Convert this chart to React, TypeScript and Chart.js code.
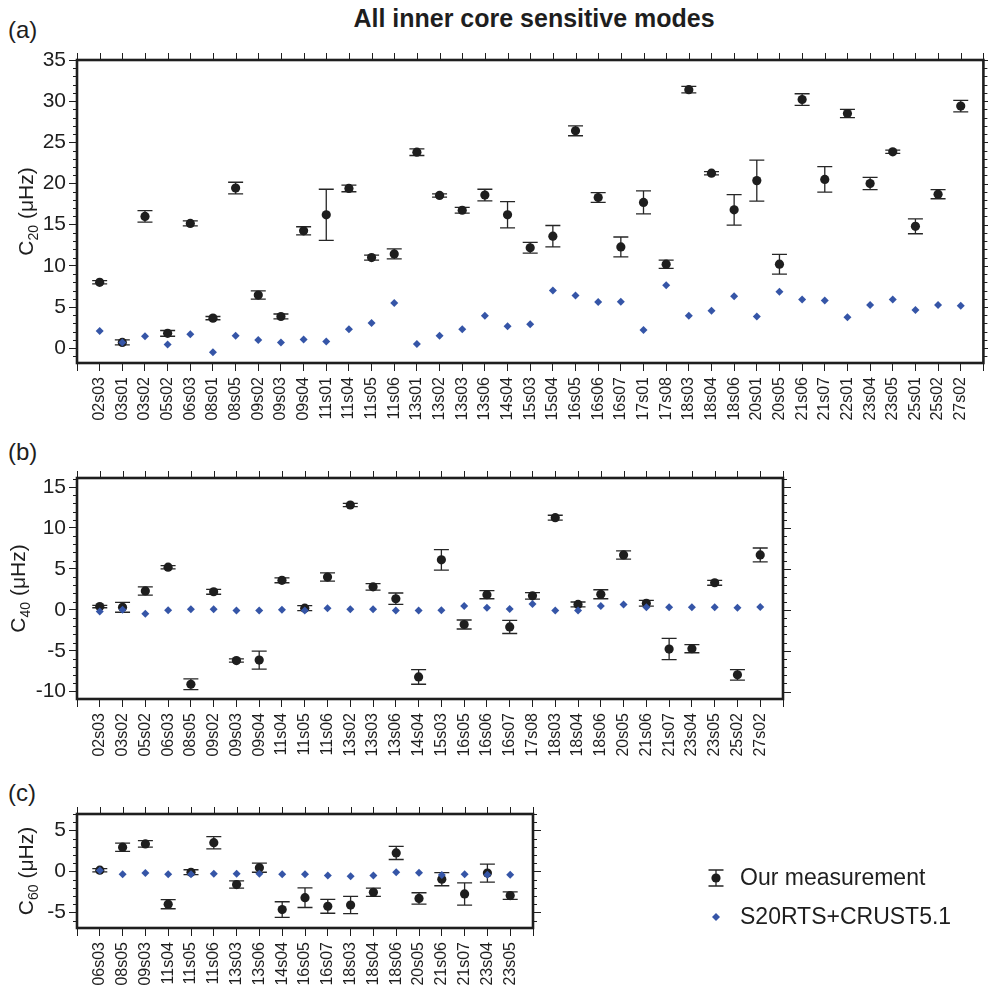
import React, { useEffect, useRef } from "react";
import { Chart, registerables } from "chart.js";

Chart.register(...registerables);

const FONT = "'Liberation Sans', Arial, Helvetica, sans-serif";
const INK = "#1e1e1e";
const BLUE = "#3555a7";

// ---------- Panel (a): C20 ----------
const modesA = ["02s03","03s01","03s02","05s02","06s03","08s01","08s05","09s02","09s03","09s04","11s01","11s04","11s05","11s06","13s01","13s02","13s03","13s06","14s04","15s03","15s04","16s05","16s06","16s07","17s01","17s08","18s03","18s04","18s06","20s01","20s05","21s06","21s07","22s01","23s04","23s05","25s01","25s02","27s02"];
const measA = [8.0, 0.7, 16.0, 1.8, 15.15, 3.65, 19.45, 6.45, 3.85, 14.25, 16.2, 19.4, 11.0, 11.45, 23.8, 18.55, 16.75, 18.6, 16.2, 12.2, 13.6, 26.4, 18.3, 12.3, 17.7, 10.2, 31.4, 21.25, 16.8, 20.35, 10.2, 30.2, 20.5, 28.5, 20.0, 23.85, 14.8, 18.7, 29.4];
const errA = [0.2, 0.3, 0.7, 0.35, 0.3, 0.2, 0.7, 0.5, 0.3, 0.5, 3.1, 0.4, 0.3, 0.6, 0.4, 0.2, 0.35, 0.7, 1.6, 0.65, 1.3, 0.6, 0.6, 1.2, 1.4, 0.5, 0.4, 0.2, 1.85, 2.5, 1.2, 0.7, 1.55, 0.5, 0.75, 0.2, 0.9, 0.55, 0.7];
const modelA = [2.1, 0.7, 1.45, 0.45, 1.7, -0.5, 1.5, 1.0, 0.7, 1.05, 0.8, 2.3, 3.05, 5.5, 0.5, 1.5, 2.3, 3.95, 2.65, 2.9, 7.0, 6.4, 5.6, 5.65, 2.2, 7.65, 3.95, 4.55, 6.3, 3.85, 6.85, 5.9, 5.8, 3.75, 5.25, 5.9, 4.65, 5.25, 5.15];
const yTicksA = [0, 5, 10, 15, 20, 25, 30, 35];

// ---------- Panel (b): C40 ----------
const modesB = ["02s03","03s02","05s02","06s03","08s05","09s02","09s03","09s04","11s04","11s05","11s06","13s02","13s03","13s06","14s04","15s03","16s05","16s06","16s07","17s08","18s03","18s04","18s06","20s05","21s06","21s07","23s04","23s05","25s02","27s02"];
const measB = [0.4, 0.3, 2.3, 5.2, -9.1, 2.2, -6.2, -6.15, 3.6, 0.2, 4.0, 12.8, 2.8, 1.35, -8.2, 6.1, -1.8, 1.85, -2.1, 1.7, 11.25, 0.65, 1.9, 6.7, 0.8, -4.8, -4.75, 3.3, -7.95, 6.7];
const errB = [0.15, 0.6, 0.5, 0.2, 0.65, 0.3, 0.2, 1.1, 0.3, 0.3, 0.5, 0.2, 0.4, 0.7, 0.9, 1.25, 0.55, 0.5, 0.8, 0.4, 0.3, 0.3, 0.55, 0.5, 0.35, 1.3, 0.5, 0.3, 0.65, 0.85];
const modelB = [-0.2, 0.0, -0.5, -0.05, 0.05, 0.05, -0.1, -0.08, 0.0, -0.1, 0.2, 0.08, 0.05, -0.1, -0.1, -0.05, 0.45, 0.25, 0.1, 0.7, -0.1, -0.1, 0.45, 0.65, 0.3, 0.3, 0.3, 0.3, 0.25, 0.35];
const yTicksB = [-10, -5, 0, 5, 10, 15];

// ---------- Panel (c): C60 ----------
const modesC = ["06s03","08s05","09s03","11s04","11s05","11s06","13s03","13s06","14s04","16s05","16s07","18s03","18s04","18s06","20s05","21s06","21s07","23s04","23s05"];
const measC = [0.15, 2.95, 3.35, -4.0, -0.1, 3.5, -1.6, 0.45, -4.65, -3.2, -4.25, -4.1, -2.55, 2.25, -3.3, -0.95, -2.75, -0.2, -2.95];
const errC = [0.2, 0.5, 0.4, 0.55, 0.3, 0.75, 0.45, 0.55, 0.95, 1.2, 0.85, 1.05, 0.5, 0.8, 0.7, 0.8, 1.35, 1.1, 0.45];
const modelC = [0.1, -0.35, -0.2, -0.35, -0.35, -0.3, -0.3, -0.3, -0.35, -0.35, -0.5, -0.6, -0.5, -0.1, -0.15, -0.45, -0.35, -0.4, -0.4];
const yTicksC = [-5, 0, 5];

const legendLabels = ["Our measurement", "S20RTS+CRUST5.1"];

type Spec = {
  labels: string[]; meas: number[]; err: number[]; model: number[]; yTicks: number[];
  yMin: number; yMax: number; sub: string;
  top: number; height: number; padTop: number; padRight: number; xH: number;
  titleX: number; legend?: boolean;
};

const specs: Spec[] = [
  { labels: modesA, meas: measA, err: errA, model: modelA, yTicks: yTicksA, yMin: -1.8, yMax: 35, sub: "20",
    top: 30, height: 410, padTop: 30, padRight: 1.5, xH: 77, titleX: 25 },
  { labels: modesB, meas: measB, err: errB, model: modelB, yTicks: yTicksB, yMin: -10.9, yMax: 16.1, sub: "40",
    top: 450, height: 320, padTop: 28, padRight: 205, xH: 71, titleX: 17 },
  { labels: modesC, meas: measC, err: errC, model: modelC, yTicks: yTicksC, yMin: -6.9, yMax: 7.0, sub: "60",
    top: 790, height: 198, padTop: 24, padRight: 455, xH: 60, titleX: 25, legend: true },
];

const DOT_R = 4.6;
const DIA_R = 4.0;

function drawErrorBar(ctx: CanvasRenderingContext2D, x: number, y1: number, y2: number, cap: number) {
  ctx.beginPath();
  ctx.moveTo(x, y1); ctx.lineTo(x, y2);
  ctx.moveTo(x - cap, y1); ctx.lineTo(x + cap, y1);
  ctx.moveTo(x - cap, y2); ctx.lineTo(x + cap, y2);
  ctx.stroke();
}

function makePlugin(spec: Spec) {
  return {
    id: "frameAndBars",
    beforeDatasetsDraw(chart: any) {
      const ctx: CanvasRenderingContext2D = chart.ctx;
      const xs = chart.scales.x, ys = chart.scales.y;
      ctx.save();
      ctx.strokeStyle = "#262626";
      ctx.lineWidth = 1.3;
      spec.meas.forEach((v, i) => {
        const x = xs.getPixelForValue(i);
        drawErrorBar(ctx, x, ys.getPixelForValue(v + spec.err[i]), ys.getPixelForValue(v - spec.err[i]), 7.5);
      });
      ctx.restore();
    },
    afterDraw(chart: any) {
      const ctx: CanvasRenderingContext2D = chart.ctx;
      const { left, right, top, bottom } = chart.chartArea;
      const xs = chart.scales.x, ys = chart.scales.y;
      ctx.save();
      ctx.strokeStyle = INK;
      ctx.lineWidth = 1;
      ctx.beginPath();
      // top ticks
      for (let i = -1; i <= spec.labels.length; i++) {
        const x = Math.round(xs.getPixelForValue(i)) + 0.5;
        ctx.moveTo(x, top); ctx.lineTo(x, top - 7);
      }
      // minor left ticks & right ticks
      for (let v = Math.ceil(spec.yMin); v <= Math.floor(spec.yMax); v++) {
        const y = Math.round(ys.getPixelForValue(v)) + 0.5;
        const major = v % 5 === 0;
        if (!major) { ctx.moveTo(left - 4, y); ctx.lineTo(left, y); }
        const len = major ? 8 : 4;
        ctx.moveTo(right, y); ctx.lineTo(right + len, y);
      }
      ctx.stroke();
      // frame
      ctx.lineWidth = 2.6;
      ctx.strokeRect(left, top, right - left, bottom - top);

      // y axis title with subscript
      ctx.fillStyle = INK;
      ctx.translate(spec.titleX, (top + bottom) / 2);
      ctx.rotate(-Math.PI / 2);
      ctx.textBaseline = "alphabetic";
      ctx.textAlign = "left";
      const big = `21px ${FONT}`, small = `14px ${FONT}`;
      ctx.font = big; const wC = ctx.measureText("C").width;
      const rest = " (\u03bcHz)"; const wR = ctx.measureText(rest).width;
      ctx.font = small; const wS = ctx.measureText(spec.sub).width;
      let x0 = -(wC + wS + wR) / 2;
      const base = 7.5;
      ctx.font = big; ctx.fillText("C", x0, base); x0 += wC;
      ctx.font = small; ctx.fillText(spec.sub, x0, base + 5); x0 += wS;
      ctx.font = big; ctx.fillText(rest, x0, base);
      ctx.restore();

      if (spec.legend) {
        ctx.save();
        const oy = -spec.top;
        const mx = 716;
        const y1 = 878 + oy, y2 = 917 + oy;
        ctx.strokeStyle = "#262626";
        ctx.lineWidth = 1.3;
        drawErrorBar(ctx, mx, y1 - 8, y1 + 8, 7.5);
        ctx.fillStyle = INK;
        ctx.beginPath(); ctx.arc(mx, y1, DOT_R, 0, Math.PI * 2); ctx.fill();
        ctx.fillStyle = BLUE;
        ctx.beginPath();
        ctx.moveTo(mx, y2 - DIA_R); ctx.lineTo(mx + DIA_R, y2); ctx.lineTo(mx, y2 + DIA_R); ctx.lineTo(mx - DIA_R, y2);
        ctx.closePath(); ctx.fill();
        ctx.fillStyle = INK;
        ctx.font = `23px ${FONT}`;
        ctx.textBaseline = "middle";
        ctx.textAlign = "left";
        ctx.fillText(legendLabels[0], 740, y1 + 1);
        ctx.fillText(legendLabels[1], 740, y2 + 1);
        ctx.restore();
      }
    },
  };
}

function Panel({ spec }: { spec: Spec }) {
  const ref = useRef<HTMLCanvasElement | null>(null);
  useEffect(() => {
    if (!ref.current) return;
    const n = spec.labels.length;
    const chart = new Chart(ref.current, {
      type: "scatter",
      data: {
        datasets: [
          {
            label: legendLabels[1],
            data: spec.model.map((y, i) => ({ x: i, y })),
            pointStyle: "rectRot",
            pointRadius: DIA_R,
            backgroundColor: BLUE,
            borderWidth: 0,
            order: 0,
          },
          {
            label: legendLabels[0],
            data: spec.meas.map((y, i) => ({ x: i, y })),
            pointStyle: "circle",
            pointRadius: DOT_R,
            backgroundColor: INK,
            borderWidth: 0,
            order: 1,
          },
        ],
      },
      options: {
        animation: false,
        responsive: false,
        events: [],
        layout: { padding: { top: spec.padTop, right: spec.padRight, bottom: 0, left: 0 } },
        plugins: { legend: { display: false }, tooltip: { enabled: false }, title: { display: false } },
        scales: {
          x: {
            type: "linear",
            min: -1,
            max: n,
            afterBuildTicks: (s: any) => {
              const t = [];
              for (let i = -1; i <= n; i++) t.push({ value: i });
              s.ticks = t;
            },
            afterFit: (s: any) => { s.height = spec.xH; s.paddingLeft = 0; s.paddingRight = 0; },
            ticks: {
              autoSkip: false,
              maxRotation: 90,
              minRotation: 90,
              padding: 6,
              color: INK,
              font: { family: FONT, size: 16 },
              callback: (v: any) => (spec.labels[v] !== undefined ? spec.labels[v] : ""),
            },
            grid: { display: true, drawOnChartArea: false, drawTicks: true, tickLength: 8, color: INK, lineWidth: 1 },
            border: { display: false },
          },
          y: {
            type: "linear",
            min: spec.yMin,
            max: spec.yMax,
            afterBuildTicks: (s: any) => { s.ticks = spec.yTicks.map((v) => ({ value: v })); },
            afterFit: (s: any) => { s.width = 77; s.paddingTop = 0; s.paddingBottom = 0; },
            ticks: {
              padding: 3,
              color: INK,
              font: { family: FONT, size: 21 },
              callback: (v: any) => String(v),
            },
            grid: { display: true, drawOnChartArea: false, drawTicks: true, tickLength: 8, color: INK, lineWidth: 1 },
            border: { display: false },
          },
        },
      },
      plugins: [makePlugin(spec)],
    } as any);
    return () => chart.destroy();
  }, [spec]);
  return (
    <canvas
      ref={ref}
      width={988}
      height={spec.height}
      style={{ position: "absolute", left: 0, top: spec.top, width: 988, height: spec.height }}
    />
  );
}

const textStyle: React.CSSProperties = {
  position: "absolute",
  fontFamily: FONT,
  color: INK,
  lineHeight: 1,
  whiteSpace: "nowrap",
  transform: "translateY(-50%)",
};

export default function App() {
  return (
    <div style={{ position: "absolute", left: 0, top: 0, width: 988, height: 988, background: "#fff", overflow: "hidden" }}>
      <div style={{ ...textStyle, left: 0, width: 1068, textAlign: "center", top: 18, fontSize: 25, fontWeight: 700 }}>
        All inner core sensitive modes
      </div>
      <div style={{ ...textStyle, left: 8, top: 30, fontSize: 24 }}>(a)</div>
      <div style={{ ...textStyle, left: 8, top: 452, fontSize: 24 }}>(b)</div>
      <div style={{ ...textStyle, left: 8, top: 793, fontSize: 24 }}>(c)</div>
      {specs.map((s, i) => (
        <Panel key={i} spec={s} />
      ))}
    </div>
  );
}
